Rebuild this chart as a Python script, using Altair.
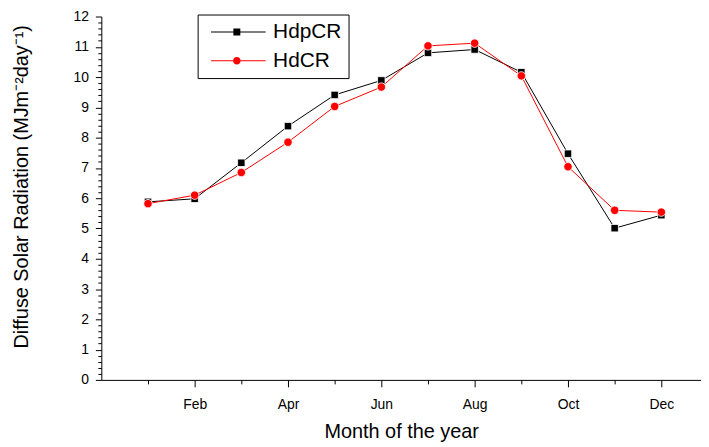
import altair as alt
import pandas as pd

# ---- data ----
months = list(range(1, 13))
month_labels = ["", "Jan", "Feb", "Mar", "Apr", "May", "Jun", "Jul", "Aug", "Sep", "Oct", "Nov", "Dec"]
hdpcr = [5.88, 5.98, 7.17, 8.38, 9.41, 9.89, 10.80, 10.91, 10.16, 7.47, 5.01, 5.44]
hdcr = [5.82, 6.10, 6.85, 7.85, 9.03, 9.67, 11.03, 11.12, 10.04, 7.04, 5.60, 5.54]
series_names = ["HdpCR", "HdCR"]
series_colors = ["#000000", "#ff0000"]
x_major = [2, 4, 6, 8, 10, 12]
x_minor = [1, 3, 5, 7, 9, 11]
y_major = list(range(0, 13))
y_minor = [round(i * 0.2, 1) for i in range(0, 61) if i % 5 != 0]

df_black = pd.DataFrame({"month": months, "value": hdpcr, "series": "HdpCR"})
df_red = pd.DataFrame({"month": months, "value": hdcr, "series": "HdCR"})
df_all = pd.concat([df_black, df_red], ignore_index=True)

FONT = "Liberation Sans"
xscale = alt.Scale(domain=[0, 12.85], nice=False, zero=False)
yscale = alt.Scale(domain=[0, 12], nice=False, zero=False)

label_expr = "[" + ",".join("'%s'" % m for m in month_labels) + "][datum.value]"

x_main_axis = alt.Axis(
    orient="bottom", values=x_major, labelExpr=label_expr, grid=False,
    tickSize=7, tickColor="black", tickWidth=1, domainColor="black", domainWidth=1,
    labelFont=FONT, labelFontSize=14, labelColor="black", labelPadding=11,
    labelFlush=False, labelOverlap=False,
    title="Month of the year", titleFont=FONT, titleFontSize=20, titleFontWeight="normal",
    titleColor="black", titleX=302, titleY=52, titleBaseline="middle",
)
x_minor_axis = alt.Axis(
    orient="bottom", values=x_minor, grid=False, labels=False, domain=False,
    tickSize=4, tickColor="black", tickWidth=1, title="",
)
y_main_axis = alt.Axis(
    orient="left", values=y_major, grid=False,
    tickSize=6, tickColor="black", tickWidth=1, domainColor="black", domainWidth=1,
    labelFont=FONT, labelFontSize=14, labelColor="black", labelPadding=7,
    labelFlush=False, labelOverlap=False,
    title="Diffuse Solar Radiation (MJm\u207b\u00b2day\u207b\u00b9)", titleFont=FONT,
    titleFontSize=20, titleFontWeight="normal", titleColor="black",
    titleX=-80, titleY=171, titleBaseline="middle",
)
y_minor_axis = alt.Axis(
    orient="left", values=y_minor, grid=False, labels=False, domain=False,
    tickSize=3.5, tickColor="black", tickWidth=1, title="",
)

line_black = alt.Chart(df_black).mark_line(color="#000000", strokeWidth=1).encode(
    x=alt.X("month:Q", scale=xscale, axis=x_main_axis),
    y=alt.Y("value:Q", scale=yscale, axis=y_main_axis),
)
line_red = alt.Chart(df_red).mark_line(color="#ff0000", strokeWidth=1).encode(
    x=alt.X("month:Q", scale=xscale, axis=x_minor_axis),
    y=alt.Y("value:Q", scale=yscale, axis=y_minor_axis),
)
pts_black = alt.Chart(df_black).mark_point(
    shape="square", filled=True, fill="#000000", stroke="white", strokeWidth=0.8, size=56, opacity=1
).encode(
    x=alt.X("month:Q", scale=xscale, axis=None),
    y=alt.Y("value:Q", scale=yscale, axis=None),
)
pts_red = alt.Chart(df_red).mark_point(
    shape="circle", filled=True, fill="#ff0000", stroke="white", strokeWidth=0.8, size=72, opacity=1
).encode(
    x=alt.X("month:Q", scale=xscale, axis=None),
    y=alt.Y("value:Q", scale=yscale, axis=None),
)

# legend symbols: line segment + marker (path units: 1 = sqrt(size)/2 px = 10 px)
sq_path = ("M-0.4,-0.05H5.1V0.05H-0.4Z"
           "M1.85,-0.35H2.55V0.35H1.85Z")
ci_path = ("M-0.4,-0.05H5.1V0.05H-0.4Z"
           "M2.58,0A0.38,0.38,0,1,1,1.82,0A0.38,0.38,0,1,1,2.58,0Z")

legend_def = alt.Legend(
    orient="none", legendX=97, legendY=-2, title=None,
    padding=7, strokeColor="black", fillColor="white", cornerRadius=0,
    symbolSize=400, symbolStrokeWidth=0, symbolOpacity=1,
    labelFont=FONT, labelFontSize=21, labelColor="black", labelOffset=48,
    labelLimit=300, rowPadding=7,
)
legend_layer = alt.Chart(df_all).transform_filter("false").mark_point(filled=True, opacity=1).encode(
    x=alt.X("month:Q", scale=xscale, axis=None),
    y=alt.Y("value:Q", scale=yscale, axis=None),
    color=alt.Color("series:N", scale=alt.Scale(domain=series_names, range=series_colors), legend=legend_def),
    shape=alt.Shape("series:N", scale=alt.Scale(domain=series_names, range=[sq_path, ci_path]), legend=legend_def),
)

chart = alt.layer(line_black, line_red, pts_black, pts_red, legend_layer).resolve_axis(
    x="independent", y="independent"
).properties(
    width=604, height=366,
    padding={"left": 94, "top": 7, "right": 0, "bottom": 64},
    autosize=alt.AutoSizeParams(type="none"),
    background="white",
).configure_view(stroke="transparent")

chart.save("out.html", embed_options={"renderer": "svg", "actions": False})
